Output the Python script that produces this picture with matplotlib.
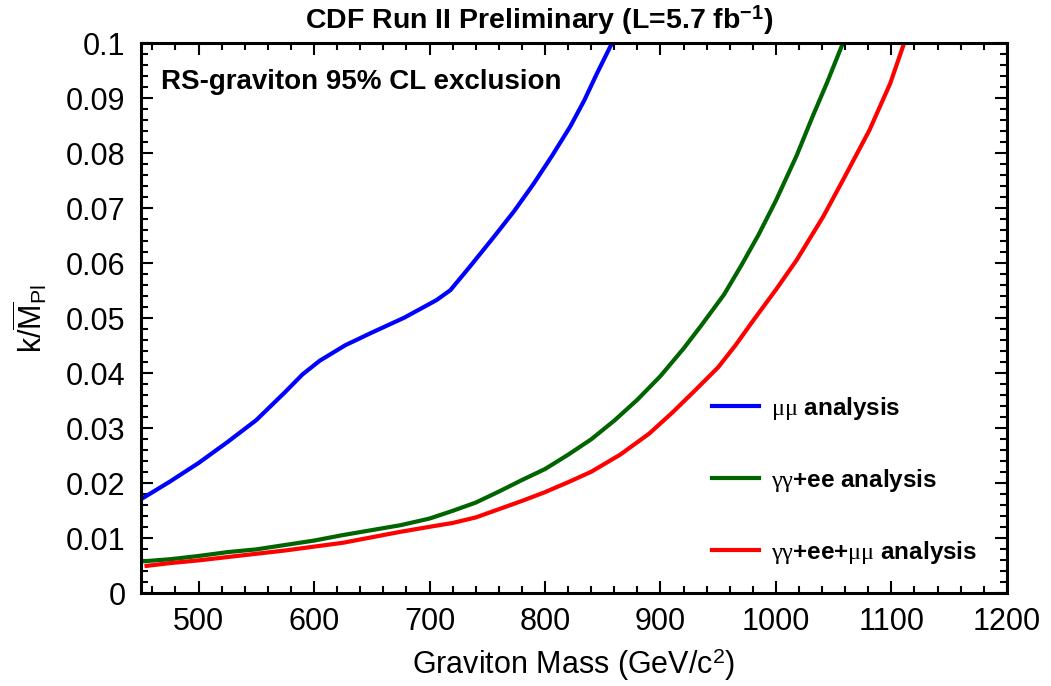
import matplotlib
matplotlib.use("Agg")
import matplotlib.pyplot as plt
from matplotlib.ticker import MultipleLocator

plt.rcParams['font.family'] = ['Liberation Sans', 'DejaVu Sans']
plt.rcParams['mathtext.fontset'] = 'custom'
plt.rcParams['mathtext.rm'] = 'Liberation Sans'
plt.rcParams['mathtext.it'] = 'Liberation Serif'
plt.rcParams['mathtext.bf'] = 'Liberation Sans:bold'

# values
mass_mumu = [450, 475, 500, 525, 550, 575, 590, 605, 627, 650, 678, 706, 718,
             735, 755, 773, 790, 806, 822, 834, 845, 858]
k_mumu = [0.0171, 0.0203, 0.0237, 0.0275, 0.0315, 0.0366, 0.0398, 0.0423,
          0.0451, 0.0474, 0.0501, 0.0533, 0.0551, 0.0594, 0.0646, 0.0694,
          0.0744, 0.0795, 0.0849, 0.0896, 0.0945, 0.1]

mass_ggee = [450, 475, 500, 525, 550, 575, 600, 625, 650, 675, 700, 720, 740,
             760, 780, 800, 820, 840, 860, 880, 900, 920, 935, 955, 970, 985,
             1000, 1018, 1032, 1044, 1058]
k_ggee = [0.0058, 0.0062, 0.0068, 0.0075, 0.0080, 0.0088, 0.0096, 0.0106,
          0.0115, 0.0124, 0.0136, 0.0150, 0.0165, 0.0185, 0.0206, 0.0226,
          0.0252, 0.0280, 0.0314, 0.0352, 0.0395, 0.0445, 0.0486, 0.0543,
          0.0596, 0.0652, 0.0714, 0.0796, 0.0868, 0.0927, 0.1]

mass_comb = [455, 475, 500, 525, 550, 575, 600, 625, 650, 675, 700, 720, 740,
             760, 780, 800, 820, 840, 865, 890, 910, 930, 950, 965, 980, 1000,
             1018, 1041, 1058, 1081, 1099, 1111]
k_comb = [0.0050, 0.0055, 0.0060, 0.0066, 0.0072, 0.0078, 0.0085, 0.0092,
          0.0102, 0.0112, 0.0121, 0.0128, 0.0138, 0.0153, 0.0168, 0.0184,
          0.0202, 0.0221, 0.0252, 0.0290, 0.0328, 0.0369, 0.0411, 0.0451,
          0.0495, 0.0552, 0.0606, 0.0685, 0.0751, 0.0842, 0.0927, 0.1]

labels = [r'$\mu\mu$ analysis', r'$\gamma\gamma$+ee analysis',
          r'$\gamma\gamma$+ee+$\mu\mu$ analysis']
colors = ['#0000ff', '#006400', '#ff0000']

xticks = [500, 600, 700, 800, 900, 1000, 1100, 1200]
yticks = [0, 0.01, 0.02, 0.03, 0.04, 0.05, 0.06, 0.07, 0.08, 0.09, 0.1]
ytick_labels = ['0', '0.01', '0.02', '0.03', '0.04', '0.05', '0.06', '0.07',
                '0.08', '0.09', '0.1']

fig = plt.figure(figsize=(10.51, 6.86), dpi=100)
ax = fig.add_axes([0.134, 0.135, 0.824, 0.802])

ax.plot(mass_mumu, k_mumu, color=colors[0], lw=3, label=labels[0])
ax.plot(mass_ggee, k_ggee, color=colors[1], lw=3, label=labels[1])
ax.plot(mass_comb, k_comb, color=colors[2], lw=3, label=labels[2])

ax.set_xlim(450, 1200)
ax.set_ylim(0, 0.1)
ax.set_xticks(xticks)
ax.set_yticks(yticks)
ax.set_yticklabels(ytick_labels)
ax.xaxis.set_minor_locator(MultipleLocator(20))
ax.yaxis.set_minor_locator(MultipleLocator(0.002))
ax.tick_params(which='both', direction='in', top=True, right=True, width=1.5)
ax.tick_params(which='major', length=8.5, labelsize=22)
ax.tick_params(which='minor', length=5)
ax.tick_params(axis='x', pad=10)
ax.tick_params(axis='y', pad=11)
for s in ax.spines.values():
    s.set_linewidth(2.2)

ax.set_xlabel(r'Graviton Mass (GeV/c$^{2}$)', fontsize=22, labelpad=6)
ax.set_ylabel(r'$\mathrm{k/\overline{M}_{Pl}}$', fontsize=22, labelpad=12)

fig.text(0.513, 0.971, r'CDF Run II Preliminary (L=5.7 fb$^{\mathbf{-1}}$)',
         fontsize=20.5, fontweight='bold', ha='center', va='center')
ax.text(0.023, 0.93, 'RS-graviton 95% CL exclusion', transform=ax.transAxes,
        fontsize=20, fontweight='bold', ha='left', va='center')

ax.legend(loc='center left', bbox_to_anchor=(0.66, 0.206), frameon=False,
          prop={'size': 17.5, 'weight': 'bold'}, handlelength=1.9,
          labelspacing=1.85, borderpad=0, borderaxespad=0, handletextpad=0.5)

fig.savefig('out.png', dpi=100)
